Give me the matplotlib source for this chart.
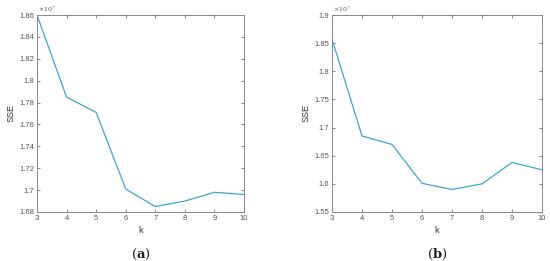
import matplotlib.pyplot as plt
import numpy as np

k = [3, 4, 5, 6, 7, 8, 9, 10]
sse_a = [1.860, 1.785, 1.771, 1.701, 1.685, 1.690, 1.698, 1.696]
sse_b = [1.857, 1.685, 1.670, 1.601, 1.590, 1.600, 1.638, 1.625]
yticks_a = [1.68, 1.70, 1.72, 1.74, 1.76, 1.78, 1.80, 1.82, 1.84, 1.86]
yticks_b = [1.55, 1.60, 1.65, 1.70, 1.75, 1.80, 1.85, 1.90]
panels = ["a", "b"]

plt.rcParams["font.family"] = ["Liberation Sans", "DejaVu Sans"]
plt.rcParams["mathtext.fontset"] = "dejavuserif"

fig = plt.figure(figsize=(5.5, 2.61), dpi=100)
boxes = [[37 / 550, 1 - 212 / 261, 207 / 550, 197 / 261],
         [332 / 550, 1 - 212 / 261, 210 / 550, 197 / 261]]


def fmt(v):
    return f"{v:.2f}".rstrip("0").rstrip(".")


for box, y, yt, lab in zip(boxes, [sse_a, sse_b], [yticks_a, yticks_b], panels):
    ax = fig.add_axes(box)
    ax.plot(k, y, color="#3aa6d2", lw=0.9)
    ax.set_xlim(3, 10)
    ax.set_ylim(yt[0], yt[-1])
    ax.set_xticks(k)
    ax.set_yticks(yt)
    ax.set_yticklabels([fmt(v) for v in yt])
    ax.tick_params(direction="in", length=2.5, width=0.5, labelsize=5.5,
                   colors="#555555", top=True, right=True, pad=2)
    for s in ax.spines.values():
        s.set_color("#888888")
        s.set_linewidth(0.7)
    ax.set_xlabel("k", fontsize=6.5, color="#333333", labelpad=3)
    ax.set_ylabel("SSE", fontsize=6.5, color="#333333", labelpad=3)
    ax.text(0.0, 1.005, r" $\times10^7$", transform=ax.transAxes, fontsize=4.5,
            color="#555555", va="bottom", ha="left")
    fig.text(box[0] + box[2] / 2, 1 - 254 / 261, rf"$(\mathbf{{{lab}}})$",
             ha="center", va="center", fontsize=9.5, color="#222222")

fig.savefig("out.png", dpi=100)
